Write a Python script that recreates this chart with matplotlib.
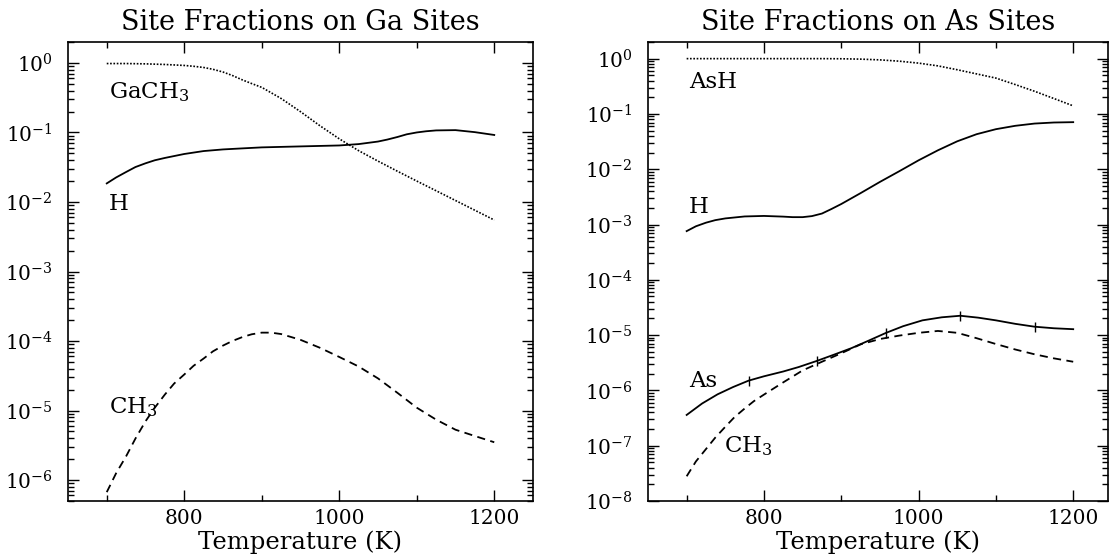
import matplotlib
matplotlib.use("Agg")
import matplotlib.pyplot as plt
from matplotlib.ticker import MultipleLocator, LogLocator, NullFormatter

plt.rcParams["font.family"] = "DejaVu Serif"
plt.rcParams["mathtext.fontset"] = "dejavuserif"

# --- Ga sites -------------------------------------------------------------
T_ga_gach3 = [700, 725, 750, 775, 800, 812, 825, 837, 850, 862, 875, 887, 900,
              925, 950, 975, 1000, 1025, 1050, 1075, 1100, 1125, 1150, 1175, 1200]
ga_gach3 = [0.98, 0.98, 0.97, 0.95, 0.92, 0.895, 0.86, 0.81, 0.74, 0.66, 0.57, 0.505,
            0.445, 0.308, 0.199, 0.125, 0.081, 0.0547, 0.0387, 0.0277, 0.020, 0.0145,
            0.0105, 0.0076, 0.0055]

T_ga_h = [700, 712, 725, 737, 750, 762, 775, 800, 825, 850, 875, 900, 925, 950,
          975, 1000, 1025, 1050, 1062, 1075, 1087, 1100, 1112, 1125, 1150, 1175, 1200]
ga_h = [0.0185, 0.0225, 0.027, 0.0318, 0.036, 0.0398, 0.043, 0.049, 0.054, 0.057,
        0.059, 0.061, 0.062, 0.063, 0.064, 0.065, 0.068, 0.074, 0.079, 0.086, 0.094,
        0.100, 0.104, 0.107, 0.108, 0.101, 0.092]

T_ga_ch3 = [700, 712, 725, 737, 750, 762, 775, 787, 800, 812, 825, 837, 850, 862,
            875, 887, 900, 912, 925, 937, 950, 975, 1000, 1025, 1050, 1075, 1100,
            1125, 1150, 1175, 1200]
ga_ch3 = [6.7e-7, 1.25e-6, 2.2e-6, 3.95e-6, 7.0e-6, 1.1e-5, 1.7e-5, 2.45e-5, 3.3e-5,
          4.4e-5, 5.6e-5, 7.1e-5, 8.6e-5, 1.0e-4, 1.14e-4, 1.25e-4, 1.32e-4, 1.32e-4,
          1.26e-4, 1.15e-4, 1.04e-4, 8.0e-5, 5.9e-5, 4.3e-5, 2.9e-5, 1.8e-5, 1.1e-5,
          7.4e-6, 5.3e-6, 4.3e-6, 3.5e-6]

# --- As sites -------------------------------------------------------------
T_as_ash = [700, 750, 800, 850, 875, 900, 925, 950, 975, 1000, 1025, 1050, 1075,
            1100, 1125, 1150, 1175, 1200]
as_ash = [1.0, 1.0, 1.0, 1.0, 1.0, 0.995, 0.98, 0.95, 0.90, 0.83, 0.74, 0.63, 0.53,
          0.445, 0.34, 0.257, 0.19, 0.14]

T_as_h = [700, 712, 725, 737, 750, 775, 800, 825, 837, 850, 862, 875, 887, 900,
          925, 950, 975, 1000, 1025, 1050, 1075, 1100, 1125, 1150, 1175, 1200]
as_h = [7.6e-4, 9.3e-4, 1.08e-3, 1.2e-3, 1.29e-3, 1.40e-3, 1.43e-3, 1.39e-3, 1.36e-3,
        1.36e-3, 1.42e-3, 1.58e-3, 1.9e-3, 2.35e-3, 3.7e-3, 5.9e-3, 9.2e-3, 0.0145,
        0.022, 0.032, 0.043, 0.053, 0.061, 0.067, 0.070, 0.071]

T_as_ch3 = [700, 712, 725, 737, 750, 762, 775, 787, 800, 825, 850, 875, 900, 925,
            950, 975, 1000, 1025, 1050, 1075, 1100, 1125, 1150, 1175, 1200]
as_ch3 = [2.8e-8, 5.2e-8, 8.7e-8, 1.4e-7, 2.2e-7, 3.3e-7, 4.7e-7, 6.4e-7, 8.4e-7,
          1.4e-6, 2.3e-6, 3.3e-6, 4.7e-6, 6.8e-6, 8.5e-6, 9.8e-6, 1.1e-5, 1.19e-5,
          1.1e-5, 8.8e-6, 6.9e-6, 5.5e-6, 4.5e-6, 3.8e-6, 3.3e-6]

# every 4th As point carries a tick mark
T_as_as = [700, 720, 740, 760, 780, 800, 825, 845, 868, 890, 913, 935,
           958, 980, 1005, 1030, 1054, 1077, 1100, 1125, 1150, 1175, 1200]
as_as = [3.6e-7, 5.8e-7, 8.5e-7, 1.15e-6, 1.5e-6, 1.8e-6, 2.2e-6, 2.65e-6, 3.4e-6,
         4.4e-6, 5.8e-6, 7.9e-6, 1.1e-5, 1.45e-5, 1.85e-5, 2.1e-5, 2.24e-5, 2.07e-5,
         1.85e-5, 1.6e-5, 1.42e-5, 1.33e-5, 1.28e-5]
as_marks = [4, 8, 12, 16, 20]

W, H = 1110, 557
fig = plt.figure(figsize=(W / 100, H / 100), dpi=100)
ax1 = fig.add_axes([68 / W, 1 - 501 / H, 465 / W, 459 / H])
ax2 = fig.add_axes([648 / W, 1 - 501 / H, 460 / W, 459 / H])

DOT = (0, (1, 1))
DASH = (0, (4.5, 3))


def style(ax, ylim, xmax, decades):
    ax.set_yscale("log")
    ax.set_xlim(650, xmax)
    ax.set_ylim(*ylim)
    ax.xaxis.set_major_locator(MultipleLocator(200))
    ax.xaxis.set_minor_locator(MultipleLocator(100))
    ax.set_yticks([10.0 ** k for k in decades])
    ax.yaxis.set_minor_locator(LogLocator(base=10, subs=range(2, 10), numticks=20))
    ax.yaxis.set_minor_formatter(NullFormatter())
    ax.tick_params(which="both", direction="in", top=True, right=True, width=1.0)
    ax.tick_params(which="major", length=8)
    ax.tick_params(which="minor", length=4)
    ax.tick_params(axis="x", labelsize=14.5, pad=6)
    ax.tick_params(axis="y", labelsize=14.5, pad=11)
    for s in ax.spines.values():
        s.set_linewidth(1.2)
    ax.set_xlabel("Temperature (K)", fontsize=17.5, labelpad=1.5)


ax1.plot(T_ga_gach3, ga_gach3, color="k", lw=1.2, ls=DOT)
ax1.plot(T_ga_h, ga_h, color="k", lw=1.3)
ax1.plot(T_ga_ch3, ga_ch3, color="k", lw=1.3, ls=DASH)
style(ax1, (5e-7, 2), 1250, range(-6, 1))
ax1.set_title("Site Fractions on Ga Sites", fontsize=19.5, pad=9)
ax1.text(703, 0.38, "GaCH$_3$", fontsize=16.5, va="center")
ax1.text(703, 0.0095, "H", fontsize=16.5, va="center")
ax1.text(703, 1.1e-5, "CH$_3$", fontsize=16.5, va="center")

ax2.plot(T_as_ash, as_ash, color="k", lw=1.2, ls=DOT)
ax2.plot(T_as_h, as_h, color="k", lw=1.3)
ax2.plot(T_as_ch3, as_ch3, color="k", lw=1.3, ls=DASH)
ax2.plot(T_as_as, as_as, color="k", lw=1.3, marker="|", ms=7, mew=1.0,
         markevery=as_marks)
style(ax2, (1e-8, 2), 1245, range(-8, 1))
ax2.set_title("Site Fractions on As Sites", fontsize=19.5, pad=9)
ax2.text(703, 0.38, "AsH", fontsize=16.5, va="center")
ax2.text(703, 2.1e-3, "H", fontsize=16.5, va="center")
ax2.text(703, 1.5e-6, "As", fontsize=16.5, va="center")
ax2.text(748, 1.0e-7, "CH$_3$", fontsize=16.5, va="center")

fig.savefig("out.png", dpi=100, facecolor="white")
